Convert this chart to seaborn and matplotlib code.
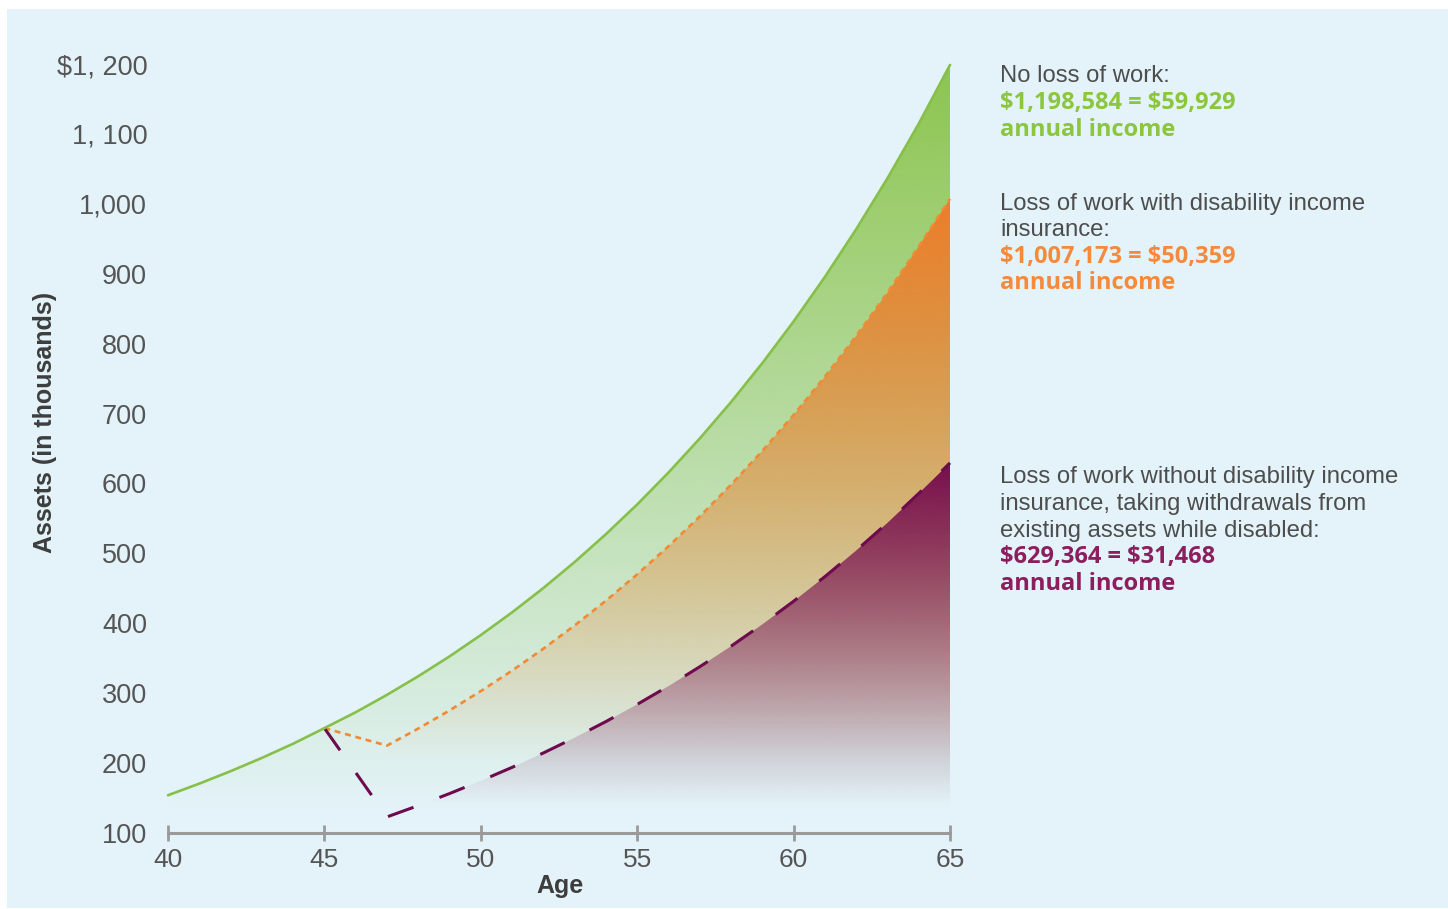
import numpy as np
import pandas as pd
import matplotlib
matplotlib.use("Agg")
import matplotlib.pyplot as plt
import seaborn as sns
from matplotlib.patches import Rectangle
from matplotlib.colors import to_rgb

# ---------------- data ----------------
AGES = list(range(40, 66))
NO_LOSS = [154, 170.6, 188.4, 207.4, 227.7, 250, 272.7, 297.6, 324.2, 352.6,
           383.1, 415.6, 450.4, 487.6, 527.5, 570, 615.6, 664.3, 716.4, 772.1,
           831.7, 895.4, 963.6, 1036.5, 1114.5, 1198.6]
DISABLED_AGES = list(range(45, 66))
WITH_DI = [250, 237.5, 225, 249.4, 275.3, 303, 332.3, 363.6, 396.9, 432.3, 470,
           510.1, 552.8, 598.2, 646.5, 698, 752.7, 810.9, 872.9, 938.9, 1007.2]
WITHOUT_DI = [250, 186.5, 123, 139.2, 156.4, 174.6, 193.9, 214.5, 236.3, 259.4,
              284, 310.1, 337.8, 367.2, 398.4, 431.5, 466.7, 504, 543.6, 585.7,
              629.4]
Y_TICKS = [100, 200, 300, 400, 500, 600, 700, 800, 900, 1000, 1100, 1200]
Y_TICK_LABELS = ["100", "200", "300", "400", "500", "600", "700", "800", "900",
                 "1,000", "1, 100", "$1, 200"]
X_TICKS = [40, 45, 50, 55, 60, 65]

W, H = 1448, 909
BG = "#E4F3F9"
GREEN_LINE = "#86C04A"
GREEN_FILL = "#8CC54E"
ORANGE_LINE = "#F08A35"
ORANGE_FILL = "#EE7D2B"
PURPLE_LINE = "#6E0A4E"
PURPLE_FILL = "#780F4F"
GREEN_TXT = "#8CC63F"
ORANGE_TXT = "#F58A3C"
PURPLE_TXT = "#8B1F5E"
GRAY_TXT = "#4D4D4D"

sns.set_theme(style="white")
plt.rcParams["font.family"] = ["Liberation Sans", "DejaVu Sans"]
plt.rcParams["lines.scale_dashes"] = False

fig = plt.figure(figsize=(W / 100, H / 100), dpi=100)
fig.patch.set_facecolor("white")
fig.add_artist(Rectangle((7 / W, 1 - 908 / H), (W - 7) / W, 899 / H,
                         transform=fig.transFigure, facecolor=BG,
                         edgecolor="none", zorder=-10))

ax = fig.add_axes([168 / W, 76 / H, 782 / W, 769 / H])
ax.set_facecolor("none")

YMIN, YMAX = 100, 1200


def gradient_fill(x, y, color, top, bottom, gamma=1.0, z=1):
    poly = ax.fill_between(x, y, YMIN, facecolor="none", edgecolor="none",
                           linewidth=0)
    path = poly.get_paths()[0]
    n = 600
    yy = np.linspace(YMIN, YMAX, n)
    alpha = np.clip((yy - bottom) / (top - bottom), 0, 1) ** gamma
    rgba = np.zeros((n, 1, 4))
    rgba[..., :3] = to_rgb(color)
    rgba[..., 3] = alpha[:, None]
    im = ax.imshow(rgba, extent=[x[0], x[-1], YMIN, YMAX], origin="lower",
                   aspect="auto", interpolation="bilinear", zorder=z)
    im.set_clip_path(path, transform=ax.transData)


# fills of the disability scenarios start at the low point (age 47)
gradient_fill(AGES, NO_LOSS, GREEN_FILL, 1200, 130, 1.0, z=1)
gradient_fill(DISABLED_AGES[2:], WITH_DI[2:], ORANGE_FILL, 1007, 205, 1.0, z=2)
gradient_fill(DISABLED_AGES[2:], WITHOUT_DI[2:], PURPLE_FILL, 629, 140, 1.0, z=3)

df_green = pd.DataFrame({"age": AGES, "assets": NO_LOSS})
df_orange = pd.DataFrame({"age": DISABLED_AGES, "assets": WITH_DI})
df_purple = pd.DataFrame({"age": DISABLED_AGES, "assets": WITHOUT_DI})

sns.lineplot(data=df_green, x="age", y="assets", color=GREEN_LINE,
             linewidth=1.9, ax=ax, zorder=6)
l = ax.lines[-1]
l.set_clip_on(False)
l.set_solid_joinstyle("round")

sns.lineplot(data=df_orange, x="age", y="assets", color=ORANGE_LINE,
             linewidth=1.9, ax=ax, zorder=5)
l = ax.lines[-1]
l.set_dashes([4.3, 3.4])
l.set_clip_on(False)

sns.lineplot(data=df_purple, x="age", y="assets", color=PURPLE_LINE,
             linewidth=2.2, ax=ax, zorder=5)
l = ax.lines[-1]
l.set_dashes([19.5, 20])
l.set_clip_on(False)

ax.set_xlim(40, 65)
ax.set_ylim(YMIN, YMAX)
ax.grid(False)
for s in ["top", "right", "left"]:
    ax.spines[s].set_visible(False)
ax.spines["bottom"].set_color("#9A9A9A")
ax.spines["bottom"].set_linewidth(2.2)

ax.set_xticks(X_TICKS)
ax.set_xticklabels([str(t) for t in X_TICKS])
ax.set_yticks(Y_TICKS)
ax.set_yticklabels(Y_TICK_LABELS)
ax.tick_params(axis="x", bottom=True, direction="inout", length=12, width=2,
               color="#9A9A9A", labelsize=19, labelcolor="#555555", pad=5)
ax.tick_params(axis="y", left=False, length=0, pad=15, labelsize=19.5,
               labelcolor="#555555")
ax.set_xlabel("")
ax.set_ylabel("")

fig.text(45 / W, 1 - 422 / H, "Assets (in thousands)", rotation=90,
         ha="center", va="center", fontsize=18, fontweight="bold",
         color="#3D3D3D")
fig.text(560 / W, 1 - 886 / H, "Age", ha="center", va="center",
         fontsize=18, fontweight="bold", color="#3D3D3D")

lines = [
    (82, "No loss of work:", GRAY_TXT, False),
    (109, "$1,198,584 = $59,929", GREEN_TXT, True),
    (136, "annual income", GREEN_TXT, True),
    (210, "Loss of work with disability income", GRAY_TXT, False),
    (236, "insurance:", GRAY_TXT, False),
    (263, "$1,007,173 = $50,359", ORANGE_TXT, True),
    (289, "annual income", ORANGE_TXT, True),
    (483, "Loss of work without disability income", GRAY_TXT, False),
    (510, "insurance, taking withdrawals from", GRAY_TXT, False),
    (537, "existing assets while disabled:", GRAY_TXT, False),
    (563, "$629,364 = $31,468", PURPLE_TXT, True),
    (590, "annual income", PURPLE_TXT, True),
]
for yb, txt, col, bold in lines:
    if bold:
        fig.text(1000 / W, 1 - yb / H, txt, ha="left", va="baseline",
                 fontsize=17, fontweight="bold", color=col, parse_math=False,
                 family=["Open Sans", "DejaVu Sans"])
    else:
        fig.text(1000 / W, 1 - yb / H, txt, ha="left", va="baseline",
                 fontsize=17.2, color=col, parse_math=False)

fig.savefig("out.png", dpi=100, facecolor=fig.get_facecolor())
